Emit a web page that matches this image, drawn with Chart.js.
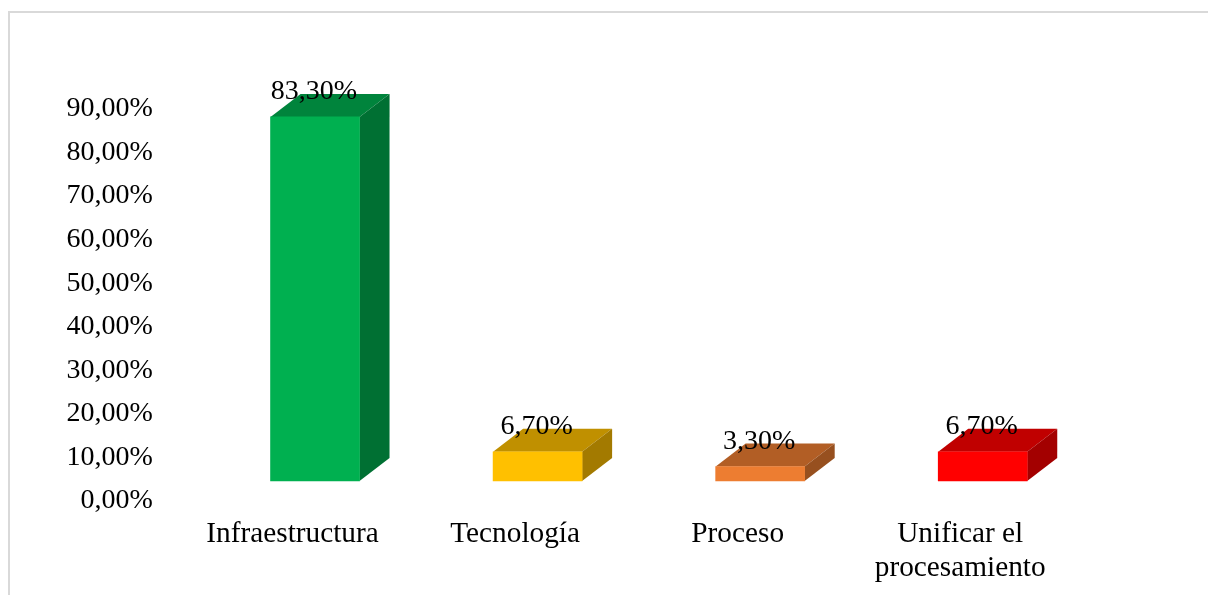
<!DOCTYPE html>
<html>
<head>
<meta charset="utf-8">
<script src="https://cdn.jsdelivr.net/npm/chart.js@4"></script>
<style>
html,body{margin:0;padding:0;background:#fff;width:1208px;height:595px;overflow:hidden}
#frame{position:absolute;left:8px;top:11px;width:1300px;height:700px;border:2px solid #d9d9d9;box-sizing:border-box}
#wrap{position:absolute;left:0;top:0;width:1208px;height:595px}
</style>
</head>
<body>
<div id="frame"></div>
<div id="wrap"><canvas id="c" width="1208" height="595"></canvas></div>
<script>
const categories = ['Infraestructura','Tecnología','Proceso',['Unificar el','procesamiento']];
const values = [83.3,6.7,3.3,6.7];
const frontColors = ['#00B050','#FFC000','#ED7D31','#FF0000'];
const topColors = ['#00843C','#C09000','#B25E25','#C00000'];
const sideColors = ['#007033','#A37A00','#97501F','#A30000'];
const fontFamily = '"Liberation Serif","Times New Roman",serif';
const fontSize = 28;
const catFontSize = 29.3;
const depthX = 30, depthY = 23;
const pct = v => v.toFixed(2).replace('.',',') + '%';

const bar3d = {
  id:'bar3d',
  beforeDatasetsDraw(chart){
    const ctx = chart.ctx;
    chart.getDatasetMeta(0).data.forEach((b,i)=>{
      const l = b.x - b.width/2, r = b.x + b.width/2, t = b.y, bt = b.base;
      ctx.fillStyle = topColors[i];
      ctx.beginPath();
      ctx.moveTo(l,t);ctx.lineTo(l+depthX,t-depthY);ctx.lineTo(r+depthX,t-depthY);ctx.lineTo(r,t);
      ctx.closePath();ctx.fill();
      ctx.fillStyle = sideColors[i];
      ctx.beginPath();
      ctx.moveTo(r,t);ctx.lineTo(r+depthX,t-depthY);ctx.lineTo(r+depthX,bt-depthY);ctx.lineTo(r,bt);
      ctx.closePath();ctx.fill();
    });
  },
  afterDatasetsDraw(chart){
    const ctx = chart.ctx;
    ctx.save();
    ctx.font = fontSize+'px '+fontFamily;
    ctx.fillStyle = '#000';
    ctx.textAlign = 'center';
    ctx.textBaseline = 'middle';
    chart.getDatasetMeta(0).data.forEach((b,i)=>{
      ctx.fillText(pct(values[i]), b.x-1, b.y-25);
    });
    ctx.restore();
  }
};

new Chart(document.getElementById('c'),{
  type:'bar',
  data:{labels:categories,datasets:[{
    data:values,
    yAxisID:'yBar',
    backgroundColor:frontColors,
    borderWidth:0,
    barThickness:89
  }]},
  plugins:[bar3d],
  options:{
    responsive:false,
    animation:false,
    devicePixelRatio:1,
    layout:{padding:{top:109,right:114,bottom:0,left:0}},
    plugins:{legend:{display:false},tooltip:{enabled:false},title:{display:false}},
    scales:{
      x:{
        grid:{display:false,drawTicks:false},
        border:{display:false},
        afterFit(s){s.height=94;},
        ticks:{color:'#000',font:{family:fontFamily,size:catFontSize,lineHeight:1.16},padding:16,labelOffset:-22.5,autoSkip:false,maxRotation:0,minRotation:0}
      },
      y:{
        min:0,max:90,
        grid:{display:false,drawTicks:false},
        border:{display:false},
        afterFit(s){s.width=203.75;},
        ticks:{color:'#000',font:{family:fontFamily,size:fontSize},padding:51,stepSize:10,callback:v=>pct(v)}
      },
      yBar:{display:false,min:-4.58,max:85.12}
    }
  }
});
</script>
</body>
</html>
